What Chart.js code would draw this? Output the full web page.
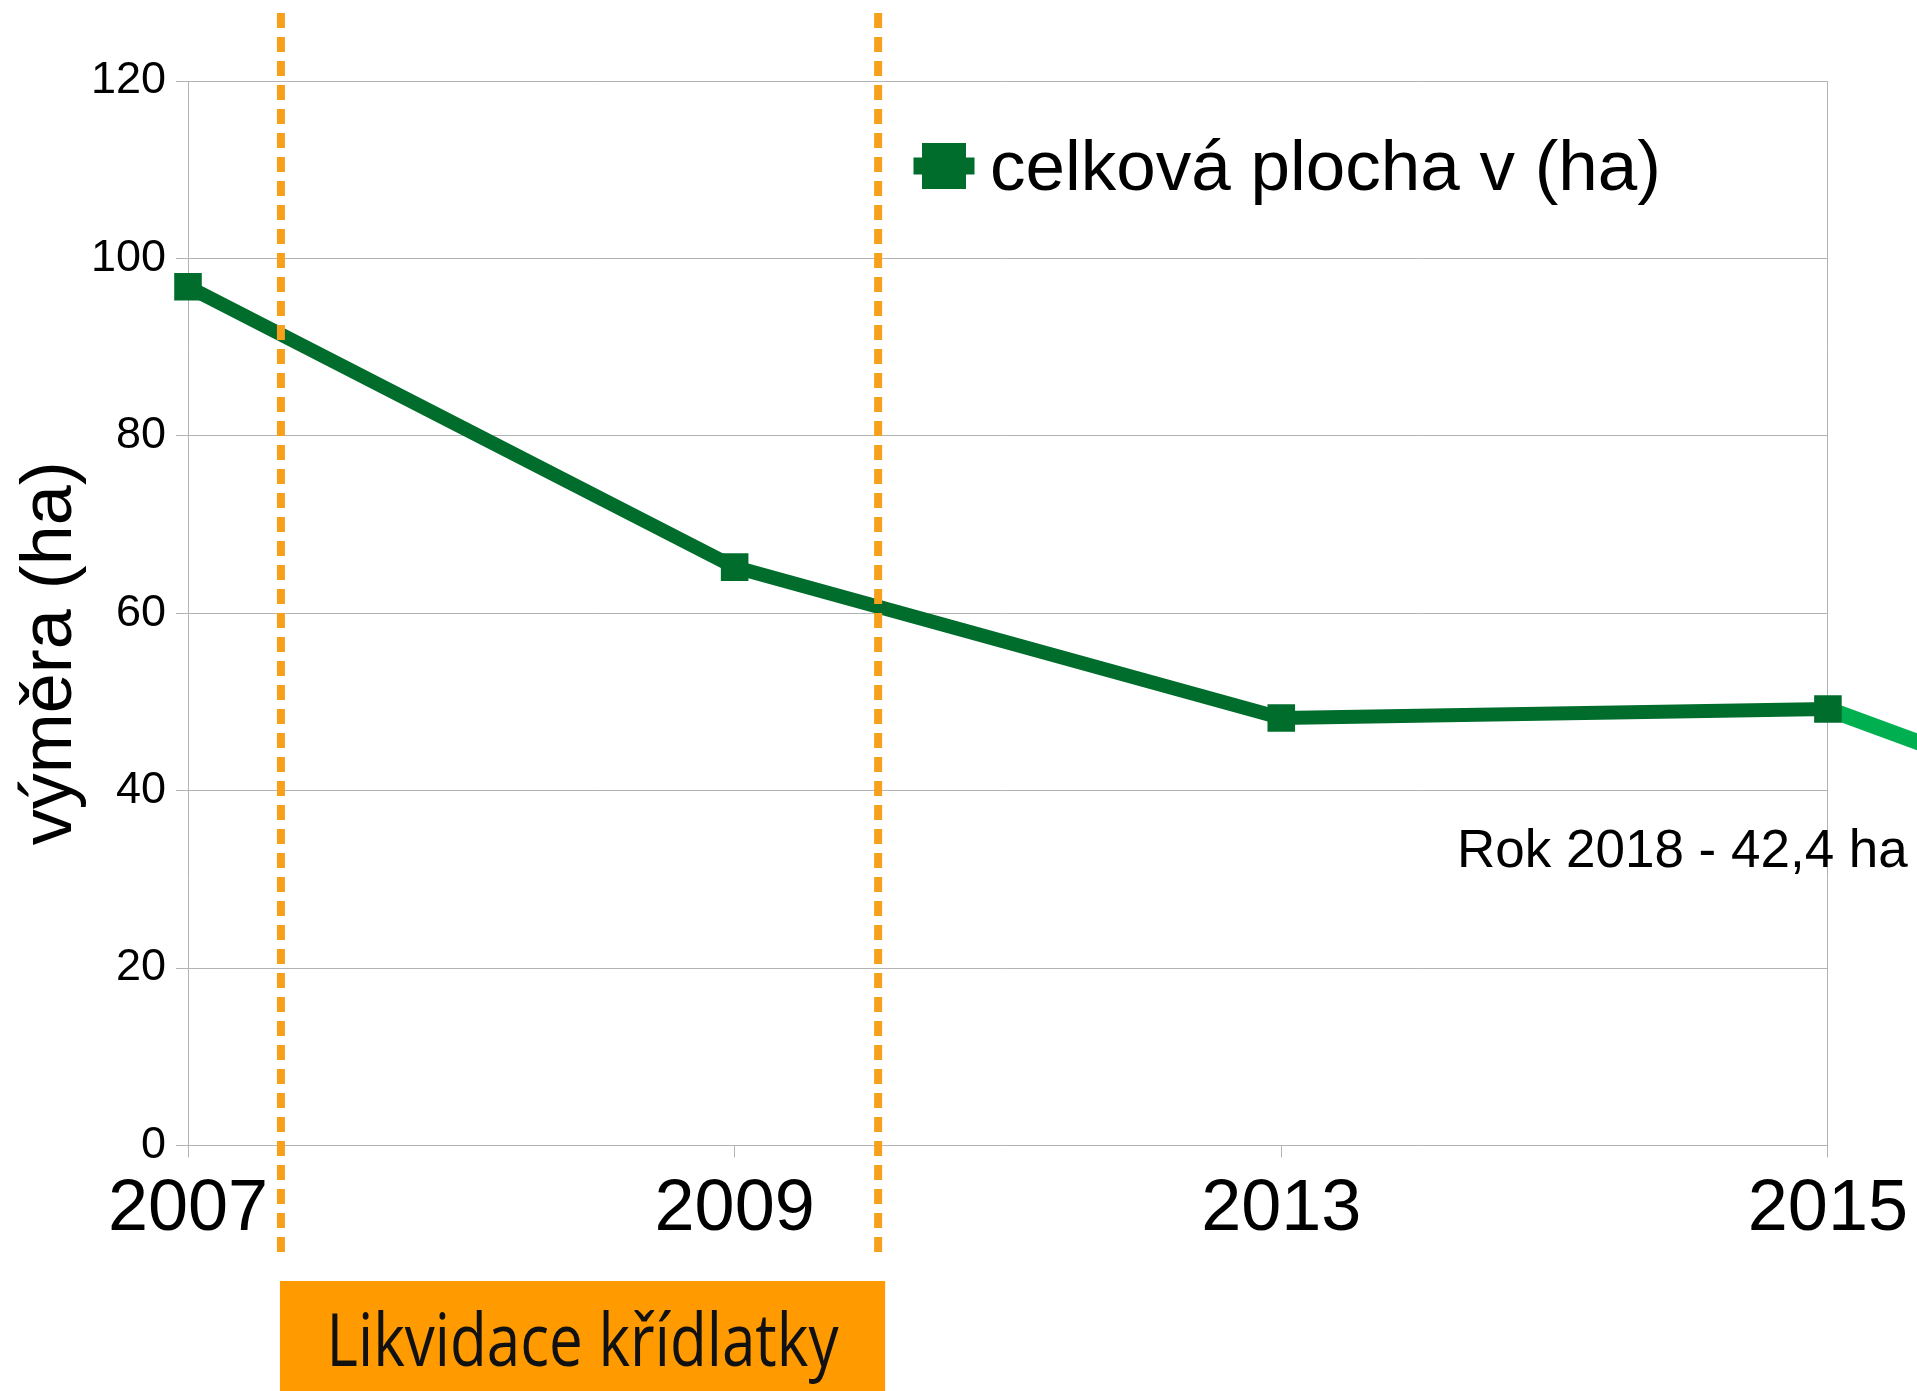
<!DOCTYPE html>
<html><head><meta charset="utf-8">
<script src="https://cdn.jsdelivr.net/npm/chart.js@4.4.1/dist/chart.umd.min.js"></script>
<style>html,body{margin:0;padding:0;background:#fff;overflow:hidden}canvas{display:block}</style>
</head><body>
<canvas id="c" width="1917" height="1391"></canvas>
<script>
// ---- data ----
const categories = ['2007', '2009', '2013', '2015'];
const categoryYears = [2007, 2009, 2013, 2015];
const areaValues = [96.8, 65.2, 48.2, 49.2];
const seriesLabel = 'celková plocha v (ha)';
const trendYears = [2015, 2018];
const trendValues = [49.2, 42.4];
const yTicks = [0, 20, 40, 60, 80, 100, 120];
const liquidationYears = [2007.34, 2010.05];
const liquidationLabel = 'Likvidace křídlatky';
const yTitle = 'výměra (ha)';

// ---- styles ----
const SANS = '"Liberation Sans", Arial, Helvetica, sans-serif';
const DARK = '#006d2c';
const LIGHT = '#00b050';
const ORANGE_LINE = '#f7a01c';
const ORANGE_BOX = '#ff9a00';
const GRID = '#b3b3b3';

function yearToPixel(chart, year) {
  const x = chart.scales.x;
  for (let i = 0; i < categoryYears.length - 1; i++) {
    if (year >= categoryYears[i] && year <= categoryYears[i + 1]) {
      const f = (year - categoryYears[i]) / (categoryYears[i + 1] - categoryYears[i]);
      return x.getPixelForValue(i + f);
    }
  }
  return x.getPixelForValue(0);
}

const annotations = {
  id: 'annotations',
  afterDraw(chart) {
    const ctx = chart.ctx;
    const area = chart.chartArea;
    // dashed orange period lines
    const xs = liquidationYears.map(y => yearToPixel(chart, y));
    ctx.save();
    ctx.strokeStyle = ORANGE_LINE;
    ctx.lineWidth = 8;
    ctx.setLineDash([15, 9]);
    ctx.lineCap = 'butt';
    xs.forEach(px => {
      ctx.beginPath();
      ctx.moveTo(px, 13);
      ctx.lineTo(px, 1258);
      ctx.stroke();
    });
    ctx.restore();

    // orange box with label
    ctx.save();
    const bx0 = xs[0] - 1, bx1 = xs[1] + 7;
    ctx.fillStyle = ORANGE_BOX;
    ctx.fillRect(bx0, 1281, bx1 - bx0, chart.height - 1281 + 5);
    ctx.font = '500 73px "Open Sans", "Noto Sans", sans-serif';
    ctx.fillStyle = '#111';
    ctx.textBaseline = 'alphabetic';
    ctx.textAlign = 'center';
    const w = ctx.measureText(liquidationLabel).width;
    const sx = 512 / w;
    ctx.translate((bx0 + bx1) / 2, 1366);
    ctx.scale(sx, 1);
    ctx.fillText(liquidationLabel, 0, 0);
    ctx.restore();

    // legend (inside plot)
    const ds = chart.data.datasets[0];
    ctx.save();
    const lx = area.left + 756, ly = area.top + 85;
    ctx.fillStyle = ds.borderColor;
    ctx.fillRect(lx - 30.5, ly - 8.5, 61, 17);
    ctx.fillRect(lx - 22, ly - 23, 44, 46);
    ctx.font = '71px ' + SANS;
    ctx.fillStyle = '#000';
    ctx.textAlign = 'left';
    ctx.textBaseline = 'alphabetic';
    ctx.fillText(ds.label, lx + 46, ly + 24);
    ctx.restore();

    // 2018 label
    ctx.save();
    ctx.font = '53px ' + SANS;
    ctx.fillStyle = '#000';
    ctx.textAlign = 'left';
    ctx.textBaseline = 'alphabetic';
    const t = 'Rok ' + trendYears[1] + ' - ' + String(trendValues[1]).replace('.', ',') + ' ha';
    ctx.fillText(t, 1457, 867);
    ctx.restore();
  }
};

new Chart(document.getElementById('c'), {
  type: 'line',
  data: {
    labels: categories,
    datasets: [
      {
        label: seriesLabel,
        data: areaValues,
        borderColor: DARK,
        backgroundColor: DARK,
        borderWidth: 14,
        tension: 0,
        pointStyle: 'rect',
        pointRadius: 19.5,
        pointBorderWidth: 0,
        pointBackgroundColor: DARK,
        borderJoinStyle: 'miter',
        xAxisID: 'x',
        yAxisID: 'y',
        order: 0
      },
      {
        label: 'trend',
        data: trendYears.map((yr, i) => ({ x: yr, y: trendValues[i] })),
        borderColor: LIGHT,
        backgroundColor: LIGHT,
        borderWidth: 16,
        pointRadius: 0,
        tension: 0,
        clip: false,
        xAxisID: 'xTrend',
        yAxisID: 'y',
        order: 1
      }
    ]
  },
  options: {
    responsive: false,
    animation: false,
    devicePixelRatio: 1,
    layout: { padding: { top: 81, right: 87, left: 0, bottom: 0 } },
    plugins: { legend: { display: false }, tooltip: { enabled: false } },
    scales: {
      x: {
        type: 'category',
        offset: false,
        grid: {
          color: c => (c.index === 0 || c.index === categories.length - 1) ? GRID : 'rgba(0,0,0,0)',
          tickColor: GRID,
          tickLength: 12,
          lineWidth: 1
        },
        border: { display: false },
        ticks: {
          font: { size: 72, family: SANS },
          color: '#000',
          padding: 9,
          maxRotation: 0,
          autoSkip: false
        },
        afterFit: s => { s.height = 245.5; }
      },
      xTrend: {
        type: 'linear',
        display: false,
        min: 1985,
        max: 2015
      },
      y: {
        min: yTicks[0],
        max: yTicks[yTicks.length - 1],
        afterBuildTicks: s => { s.ticks = yTicks.map(v => ({ value: v })); },
        grid: { color: GRID, tickColor: GRID, tickLength: 12, lineWidth: 1 },
        border: { display: false },
        ticks: { font: { size: 45, family: SANS }, color: '#000', padding: 10 },
        title: {
          display: true,
          text: yTitle + '\u00a0\u00a0\u00a0\u00a0',
          font: { size: 72, family: SANS },
          color: '#000',
          padding: { top: 8, bottom: 0 }
        },
        afterFit: s => { s.width = 188; }
      }
    }
  },
  plugins: [annotations]
});
</script>
</body></html>
